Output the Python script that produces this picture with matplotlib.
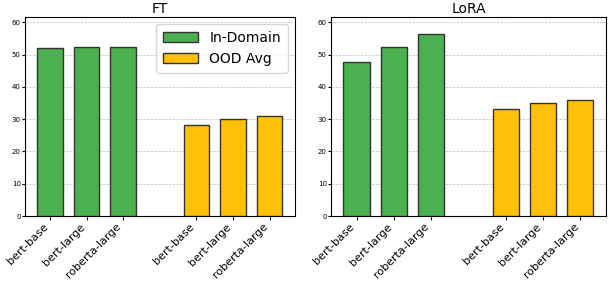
import numpy as np
import matplotlib
matplotlib.use("Agg")
import matplotlib.pyplot as plt

models = ['bert-base', 'bert-large', 'roberta-large']
ft_in_domain = [52.0, 52.2, 52.4]
ft_ood_avg = [28.2, 30.1, 31.0]
lora_in_domain = [47.8, 52.4, 56.5]
lora_ood_avg = [33.2, 35.0, 35.9]

green = '#4CAF50'
yellow = '#FFC107'

fig = plt.figure(figsize=(6.09, 2.85), dpi=100)
ax1 = fig.add_axes([0.041, 0.242, 0.443, 0.698])
ax2 = fig.add_axes([0.5435, 0.242, 0.4515, 0.698])

pos_in = np.arange(len(models))
pos_ood = pos_in + len(models) + 1

def draw_panel(ax, in_dom, ood, title):
    ax.bar(pos_in, in_dom, width=0.7, color=green, edgecolor='#333333',
           linewidth=1.0, label='In-Domain', zorder=3)
    ax.bar(pos_ood, ood, width=0.7, color=yellow, edgecolor='#333333',
           linewidth=1.0, label='OOD Avg', zorder=3)
    ax.set_xticks(np.concatenate([pos_in, pos_ood]))
    ax.set_xticklabels(models + models, rotation=45, ha='right', fontsize=8)
    ax.tick_params(axis='y', labelsize=5, length=2, pad=1)
    ax.tick_params(axis='x', length=3, pad=1)
    ax.set_ylim(0, 61.6)
    ax.set_yticks([0, 10, 20, 30, 40, 50, 60])
    ax.grid(axis='y', linestyle='--', color='#bbbbbb', linewidth=0.5, zorder=0)
    ax.set_title(title, fontsize=10, pad=3)

draw_panel(ax1, ft_in_domain, ft_ood_avg, 'FT')
draw_panel(ax2, lora_in_domain, lora_ood_avg, 'LoRA')

ax1.legend(loc='upper right', fontsize=10, handlelength=2.5, borderpad=0.5)

fig.savefig('out.png', dpi=100)
